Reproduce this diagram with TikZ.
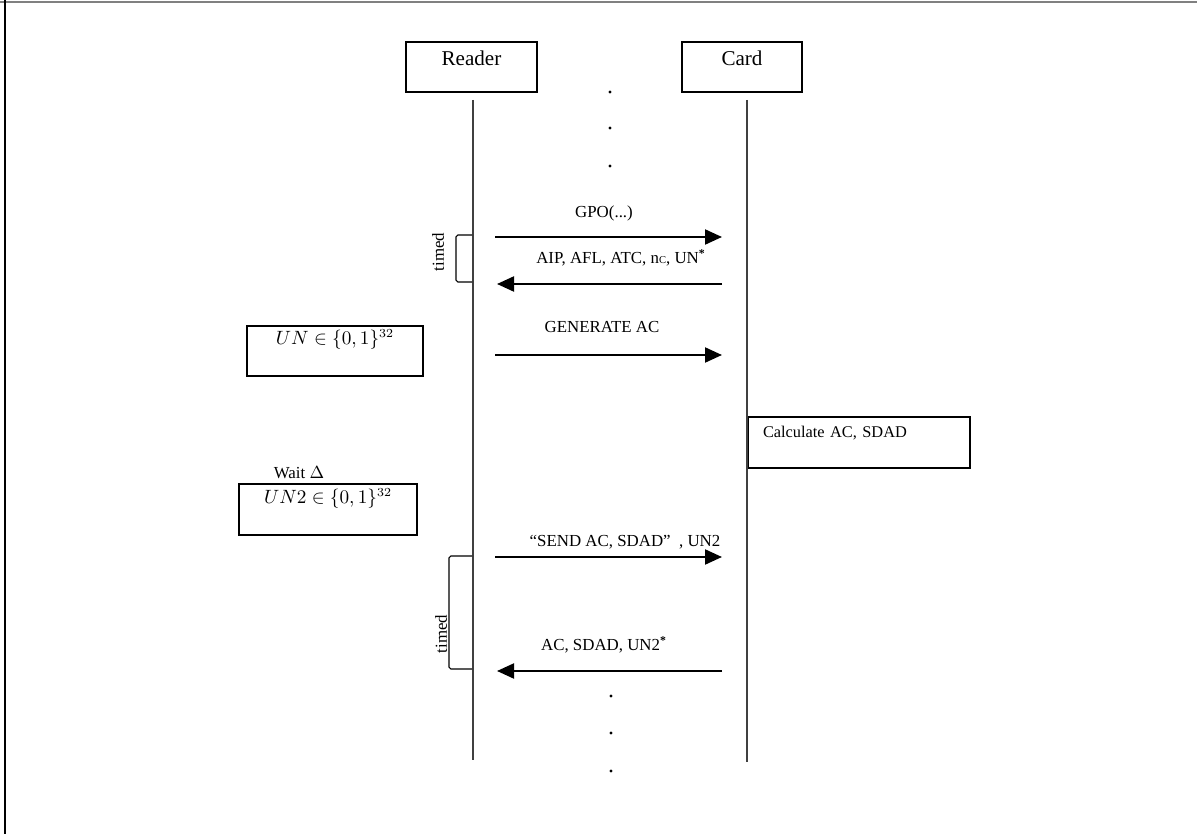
\documentclass[tikz,border=0pt]{standalone}
\usepackage{fontspec}
\setmainfont{Liberation Serif}
\usetikzlibrary{arrows.meta,positioning}
\tikzset{
  msg/.style={-{Triangle[length=3.4mm,width=3mm]}, line width=1.2pt},
  life/.style={line width=0.9pt, black!75},
  actor/.style={draw, line width=0.6pt, inner ysep=0pt, text height=0.48cm, text depth=0.52cm, font=\fontsize{12}{14}\selectfont},
  note/.style={draw, line width=0.6pt, inner ysep=0pt, font=\fontsize{10.5}{12}\selectfont},
  mlab/.style={font=\fontsize{9.6}{11}\selectfont},
  brk/.style={line width=0.6pt, rounded corners=1pt},
  tlab/.style={font=\fontsize{9.6}{11}\selectfont, rotate=90},
  dot/.style={circle, fill, inner sep=0pt, minimum size=1.9pt},
}

\begin{document}
\begin{tikzpicture}[x=0.02cm,y=-0.02cm]
\useasboundingbox (0,0) rectangle (1197,834);
% ---- frame -----------------------------------------------------------------
\draw[gray, line width=1.2pt] (0,2) -- (1197,2);
\draw[line width=0.8pt] (5,0) -- (5,834);
% ---- parties ---------------------------------------------------------------
\node[actor, minimum width=2.62cm] (reader) at (471.5,67) {Reader};
\node[actor, minimum width=2.4cm]  (card)   at (742,67)   {Card};
\coordinate (rtop) at (473,100);
\coordinate (rbot) at (473,760);
\coordinate (ctop) at (747,100);
\coordinate (cbot) at (747,762);
\draw[life] (rtop) -- (rbot);
\draw[life] (ctop) -- (cbot);
% ---- dots ------------------------------------------------------------------
\foreach \y [count=\i] in {92,128,166}
  \node[dot] (top\i) at (610,\y) {};
\foreach \y [count=\i] in {696,733,771}
  \node[dot] (bot\i) at (611,\y) {};
% ---- messages --------------------------------------------------------------
\coordinate (r1) at (495,237); \coordinate (c1) at (722,237);
\coordinate (r2) at (497,284); \coordinate (c2) at (722,284);
\coordinate (r3) at (495,355); \coordinate (c3) at (722,355);
\coordinate (r4) at (495,557); \coordinate (c4) at (722,557);
\coordinate (r5) at (497,671); \coordinate (c5) at (722,671);
\draw[msg] (r1) -- (c1);
\draw[msg] (c2) -- (r2);
\draw[msg] (r3) -- (c3);
\draw[msg] (r4) -- (c4);
\draw[msg] (c5) -- (r5);
\node[mlab] (gpo)  at (604,213) {GPO(...)};
\node[mlab] (aip)  at (621,258) {AIP, AFL, ATC, n{\fontsize{6}{6}\selectfont C}, UN\textsuperscript{\textbf{*}}};
\node[mlab] (gen)  at (602,327) {GENERATE AC};
\node[mlab] (send) at (625,542) {“SEND AC, SDAD”\enspace, UN2};
\node[mlab] (resp) at (604,645) {AC, SDAD, UN2\textsuperscript{\textbf{*}}};
% ---- local steps -----------------------------------------------------------
\node[note, minimum width=3.52cm, text height=0.37cm, text depth=0.63cm] (un) at (335,351) {$UN \in \{0,1\}^{32}$};
\node[mlab] (wait) at (299,473) {Wait $\Delta$};
\node[note, minimum width=3.56cm, text height=0.38cm, text depth=0.64cm] (un2) at (328,509.5) {$UN2 \in \{0,1\}^{32}$};
\node[note, font=\fontsize{9.3}{11}\selectfont, align=left, text width=3.84cm, inner xsep=0.3cm, text height=0.40cm, text depth=0.62cm] (calc) at (859,442.5) {Calculate AC, SDAD};
% ---- timing brackets -------------------------------------------------------
\draw[brk] (472,235) -- (456,235) -- (456,282) -- (472,282);
\node[tlab] (t1) at (438,252) {timed};
\draw[brk] (472,556) -- (449,556) -- (449,669) -- (472,669);
\node[tlab] (t2) at (441,634) {timed};
\end{tikzpicture}
\end{document}
